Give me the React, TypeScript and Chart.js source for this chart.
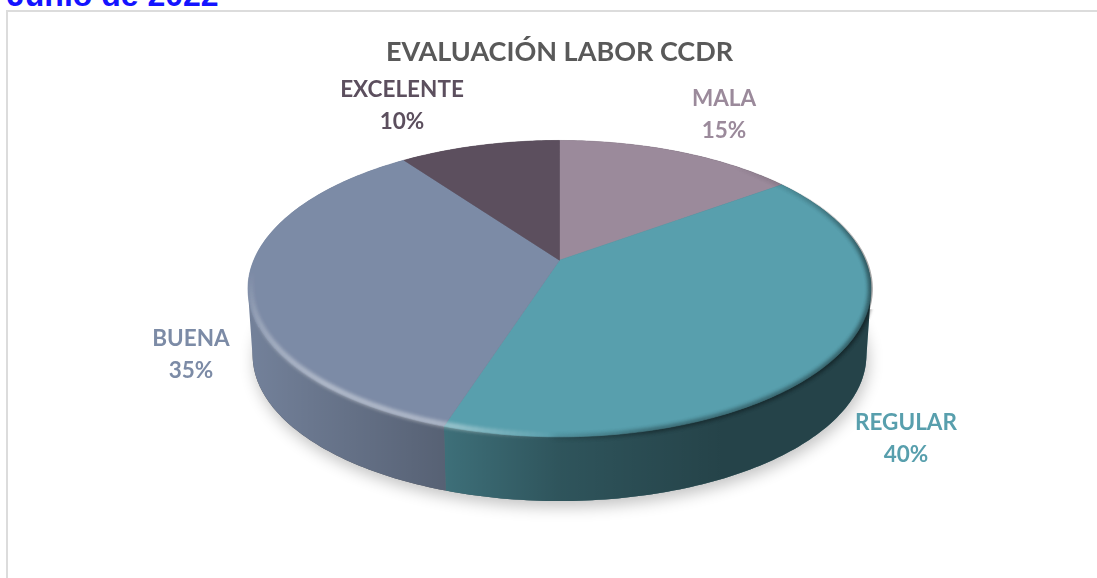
import React, { useEffect, useRef } from "react";
import { Chart, registerables } from "chart.js";

Chart.register(...registerables);

const categories = ["MALA", "REGULAR", "BUENA", "EXCELENTE"];
const values = [15, 40, 35, 10];
const sliceColors = ["#9b8a9b", "#589fad", "#7c8ba6", "#5c4f5e"];
const titleText = "EVALUACIÓN LABOR CCDR";
const captionText = "Junio de 2022";

const W = 1097;
const H = 578;
const LABEL_FONT = 'bold 22.5px Lato, "Open Sans", sans-serif';
const labelAnchors = [
  { x: 724, y: 115 },
  { x: 906, y: 439 },
  { x: 191, y: 355 },
  { x: 402, y: 106 },
];

const deg = Math.PI / 180;
const clampRamp = (v: number, a: number, b: number) => Math.min(1, Math.max(0, (v - a) / (b - a)));

const pie3d = {
  id: "pie3d",
  beforeDatasetsDraw(chart: any) {
    const ctx: CanvasRenderingContext2D = chart.ctx;
    const arcs = chart.getDatasetMeta(0).data as any[];
    const first = arcs[0];
    const cx = first.x;
    const cy = first.y;
    const r = first.outerRadius;
    const k = 0.192;
    const topB = r * 2.187;
    const topA = r * 1.021;
    const botB = topB * 0.985;
    const botA = topA * 0.985;
    const botCy = cy + r * 0.478;
    const topPt = (a: number, s = 1) => {
      const d = 1 - k * Math.sin(a);
      return [cx + (s * topB * Math.cos(a)) / d, cy + (s * topA * Math.sin(a)) / d];
    };
    const botPt = (a: number) => {
      const d = 1 - k * Math.sin(a);
      return [cx + (botB * Math.cos(a)) / d, botCy + (botA * Math.sin(a)) / d];
    };
    const samples = (a0: number, a1: number) => {
      const n = Math.max(2, Math.ceil(Math.abs(a1 - a0) / deg));
      return Array.from({ length: n + 1 }, (_, i) => a0 + ((a1 - a0) * i) / n);
    };
    const full = samples(0, Math.PI * 2);

    // Soft shadow under the disc
    ctx.save();
    ctx.shadowColor = "rgba(0,0,0,0.24)";
    ctx.shadowBlur = 15;
    ctx.shadowOffsetY = 6;
    ctx.shadowOffsetX = 2;
    ctx.fillStyle = "#555";
    ctx.beginPath();
    full.forEach((a, i) => {
      const [x, y] = botPt(a);
      i ? ctx.lineTo(x, y) : ctx.moveTo(x, y);
    });
    ctx.closePath();
    ctx.fill();
    ctx.restore();

    // Side wall: one path of same-wound quads, so that it fills out to the silhouette
    const shade = ctx.createLinearGradient(cx - topB, 0, cx + topB, 0);
    const toStop = (px: number) => (px - (cx - topB)) / (2 * topB);
    shade.addColorStop(0, "rgba(0,0,0,0.08)");
    shade.addColorStop(toStop(cx - 114), "rgba(0,0,0,0.30)");
    shade.addColorStop(toStop(cx), "rgba(0,0,0,0.47)");
    shade.addColorStop(toStop(cx + 165), "rgba(0,0,0,0.58)");
    shade.addColorStop(1, "rgba(0,0,0,0.58)");
    arcs.forEach((arc) => {
      const angles = samples(arc.startAngle, arc.endAngle);
      const wall = () => {
        ctx.beginPath();
        for (let i = 0; i < angles.length - 1; i++) {
          const quad = [topPt(angles[i]), topPt(angles[i + 1]), botPt(angles[i + 1]), botPt(angles[i])];
          let area = 0;
          quad.forEach((p, j) => {
            const q = quad[(j + 1) % 4];
            area += p[0] * q[1] - q[0] * p[1];
          });
          const ordered = area < 0 ? [...quad].reverse() : quad;
          ordered.forEach((p, j) => (j ? ctx.lineTo(p[0], p[1]) : ctx.moveTo(p[0], p[1])));
          ctx.closePath();
        }
      };
      wall();
      ctx.fillStyle = arc.options.backgroundColor;
      ctx.fill("nonzero");
      wall();
      ctx.fillStyle = shade;
      ctx.fill("nonzero");
    });

    // Top face, with the library's own slice angles
    arcs.forEach((arc) => {
      ctx.beginPath();
      ctx.moveTo(cx, cy);
      samples(arc.startAngle, arc.endAngle).forEach((a) => {
        const [x, y] = topPt(a);
        ctx.lineTo(x, y);
      });
      ctx.closePath();
      ctx.fillStyle = arc.options.backgroundColor;
      ctx.strokeStyle = arc.options.backgroundColor;
      ctx.lineWidth = 0.6;
      ctx.fill();
      ctx.stroke();
    });

    // Bevel on the rim: light on the lower left, dark on the right
    ctx.save();
    ctx.beginPath();
    full.forEach((a, i) => {
      const [x, y] = topPt(a, 1.006);
      i ? ctx.lineTo(x, y) : ctx.moveTo(x, y);
    });
    ctx.rect(0, cy + r * 0.35, W, H);
    ctx.clip("nonzero");
    ctx.filter = "blur(2px)";
    ctx.lineWidth = 4;
    ctx.lineCap = "round";
    for (let d = -50; d < 185; d += 1) {
      const light = 0.4 * clampRamp(d, 90, 106) * (1 - clampRamp(d, 130, 176));
      const dark = 0.32 * clampRamp(d, -50, 0) * (1 - clampRamp(d, 75, 95));
      if (light <= 0 && dark <= 0) continue;
      ctx.strokeStyle = light > 0 ? `rgba(255,255,255,${light})` : `rgba(0,0,0,${dark})`;
      const s = light > 0 ? 0.99 : 1;
      const [x0, y0] = topPt(d * deg, s);
      const [x1, y1] = topPt((d + 1) * deg, s);
      ctx.beginPath();
      ctx.moveTo(x0, y0);
      ctx.lineTo(x1, y1);
      ctx.stroke();
    }
    ctx.restore();

    // Category and percentage labels
    ctx.save();
    ctx.font = LABEL_FONT;
    ctx.textAlign = "center";
    ctx.textBaseline = "middle";
    arcs.forEach((arc, i) => {
      const total = values.reduce((s, v) => s + v, 0);
      ctx.fillStyle = arc.options.backgroundColor;
      ctx.fillText(categories[i], labelAnchors[i].x, labelAnchors[i].y - 16);
      ctx.fillText(`${Math.round((values[i] / total) * 100)}%`, labelAnchors[i].x, labelAnchors[i].y + 16);
    });
    ctx.restore();
    return false;
  },
};

export default function App() {
  const ref = useRef<HTMLCanvasElement>(null);
  useEffect(() => {
    const chart = new Chart(ref.current as HTMLCanvasElement, {
      type: "pie",
      data: {
        labels: categories,
        datasets: [{ data: values, backgroundColor: sliceColors, borderWidth: 0 }],
      },
      options: {
        responsive: false,
        animation: false,
        rotation: 0,
        layout: { padding: { left: 22, right: 0, top: 0, bottom: 178 } },
        plugins: {
          legend: { display: false },
          tooltip: { enabled: false },
          title: {
            display: true,
            text: titleText,
            color: "#595959",
            font: { family: 'Lato, "Open Sans", sans-serif', size: 27, weight: "bold" },
            padding: { top: 36, bottom: 52 },
          },
        },
      },
      plugins: [pie3d],
    } as any);
    return () => chart.destroy();
  }, []);
  return (
    <div style={{ position: "fixed", left: 0, top: 0, width: W, height: H, overflow: "hidden", background: "#fff" }}>
      <div
        style={{
          position: "absolute",
          left: 6,
          top: 10,
          width: W + 50,
          height: H + 50,
          border: "2px solid #dcdcdc",
          boxSizing: "border-box",
        }}
      />
      <div
        style={{
          position: "absolute",
          left: 7,
          top: -21,
          fontFamily: '"Liberation Sans", Arial, sans-serif',
          fontWeight: "bold",
          fontSize: 32,
          lineHeight: "32px",
          color: "#1414ff",
          whiteSpace: "nowrap",
        }}
      >
        {captionText}
      </div>
      <canvas ref={ref} width={W} height={H} style={{ position: "absolute", left: 0, top: 0 }} />
    </div>
  );
}
